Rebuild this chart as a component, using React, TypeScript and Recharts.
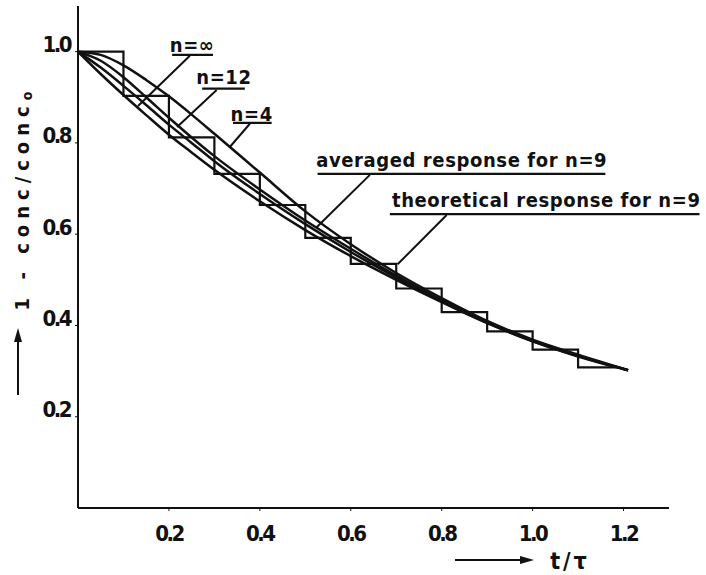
import React from 'react';
import { LineChart, Line, XAxis, YAxis, ReferenceLine, ReferenceDot } from 'recharts';

// t/tau sample points for the smooth curves
const curveT = [0, 0.05, 0.1, 0.15, 0.2, 0.25, 0.3, 0.4, 0.5, 0.6, 0.7, 0.8, 0.9, 1.0, 1.1, 1.21];
const n4 = [1.0, 0.993, 0.97, 0.938, 0.902, 0.862, 0.82, 0.735, 0.65, 0.578, 0.515, 0.46, 0.41, 0.369, 0.336, 0.302];
const n12 = [1.0, 0.98, 0.944, 0.9, 0.855, 0.812, 0.771, 0.698, 0.63, 0.568, 0.509, 0.455, 0.407, 0.367, 0.334, 0.302];
const nInf = [1.0, 0.965, 0.925, 0.883, 0.84, 0.8, 0.76, 0.688, 0.622, 0.561, 0.505, 0.453, 0.406, 0.366, 0.333, 0.302];
const averaged = [1.0, 0.951, 0.905, 0.861, 0.818, 0.779, 0.741, 0.672, 0.609, 0.552, 0.5, 0.451, 0.405, 0.365, 0.332, 0.302];

// theoretical (staircase) response for n=9
const stepT = [0, 0.1, 0.2, 0.3, 0.4, 0.5, 0.6, 0.7, 0.8, 0.9, 1.0, 1.1, 1.185];
const stepV = [1.0, 0.903, 0.812, 0.732, 0.664, 0.592, 0.535, 0.481, 0.429, 0.387, 0.347, 0.308, 0.308];

const xTicks = [0.2, 0.4, 0.6, 0.8, 1.0, 1.2];
const yTicks = [0.2, 0.4, 0.6, 0.8, 1.0];

const font = '"DejaVu Sans Condensed", "DejaVu Sans", sans-serif';

const toRows = (xs: number[], ys: number[]) => xs.map((x, i) => ({ x, y: ys[i] }));

// labels with underline + leader line, in data units
const notes = [
  { text: 'n=∞', at: [0.251, 1.015], under: [0.207, 0.297, 0.993], leader: [0.246, 0.991, 0.132, 0.881] },
  { text: 'n=12', at: [0.321, 0.945], under: [0.273, 0.367, 0.919], leader: [0.305, 0.916, 0.218, 0.835] },
  { text: 'n=4', at: [0.382, 0.864], under: [0.341, 0.426, 0.844], leader: [0.378, 0.842, 0.334, 0.791] },
  { text: 'averaged response for  n=9', at: [0.844, 0.763], under: [0.527, 1.16, 0.732], leader: [0.642, 0.73, 0.525, 0.615] },
  { text: 'theoretical  response  for  n=9', at: [1.03, 0.675], under: [0.686, 1.367, 0.644], leader: [0.811, 0.642, 0.703, 0.534] },
];

const YTick = (p: any) => (
  <text x={p.x - 3} y={p.y - 7} textAnchor="end" dominantBaseline="central" fontFamily={font} fontSize={22} fontWeight="bold" letterSpacing={-2.5} fill="#111">
    {p.payload.value.toFixed(1)}
  </text>
);

const XTick = (p: any) => (
  <text x={p.x} y={p.y + 20} textAnchor="middle" dominantBaseline="central" fontFamily={font} fontSize={22} fontWeight="bold" letterSpacing={-2.5} fill="#111">
    {p.payload.value.toFixed(1)}
  </text>
);

const YTitle = (p: any) => {
  const vb = p.viewBox;
  const cx = vb.x + 4;
  const cy = 198;
  return (
    <g>
      <text transform={`rotate(-90, ${cx}, ${cy})`} x={cx} y={cy} textAnchor="middle" dominantBaseline="central" fontFamily={font} fontSize={20} fontWeight="bold" letterSpacing={6} fill="#111">
        1 - conc/conc<tspan fontSize={14} dy={5}>o</tspan>
      </text>
      <line x1={vb.x} y1={395} x2={vb.x} y2={338} stroke="#111" strokeWidth={2} />
      <path d={`M ${vb.x - 4} ${342} L ${vb.x} ${328} L ${vb.x + 4} ${342} Z`} fill="#111" />
    </g>
  );
};

const XTitle = (p: any) => {
  const vb = p.viewBox;
  const y = vb.y + 52;
  return (
    <g>
      <line x1={455} y1={y} x2={524} y2={y} stroke="#111" strokeWidth={2} />
      <path d={`M 520 ${y - 4} L 534 ${y} L 520 ${y + 4} Z`} fill="#111" />
      <text x={570} y={y + 1} textAnchor="middle" dominantBaseline="central" fontFamily={font} fontSize={23} fontWeight="bold" letterSpacing={3} fill="#111">
        t/τ
      </text>
    </g>
  );
};

export default function App() {
  return (
    <div style={{ position: 'absolute', left: 0, top: 0, background: '#fff' }}>
      <LineChart width={706} height={575} margin={{ top: 6, right: 37, left: 18, bottom: 27 }}>
        <XAxis
          dataKey="x"
          type="number"
          domain={[0, 1.3]}
          ticks={xTicks}
          allowDataOverflow
          axisLine={{ stroke: '#111', strokeWidth: 2 }}
          tickLine={{ stroke: '#111' }}
          tickSize={3}
          height={40}
          tick={<XTick />}
          label={<XTitle />}
        />
        <YAxis
          type="number"
          domain={[0, 1.1]}
          ticks={yTicks}
          allowDataOverflow
          axisLine={{ stroke: '#111', strokeWidth: 2 }}
          tickLine={{ stroke: '#111' }}
          tickSize={3}
          width={60}
          tick={<YTick />}
          label={<YTitle />}
        />
        <Line data={toRows(stepT, stepV)} dataKey="y" type="stepAfter" stroke="#111" strokeWidth={2.2} dot={false} isAnimationActive={false} />
        <Line data={toRows(curveT, averaged)} dataKey="y" type="monotone" stroke="#111" strokeWidth={2.5} dot={false} isAnimationActive={false} />
        <Line data={toRows(curveT, nInf)} dataKey="y" type="monotone" stroke="#111" strokeWidth={2.5} dot={false} isAnimationActive={false} />
        <Line data={toRows(curveT, n12)} dataKey="y" type="monotone" stroke="#111" strokeWidth={2.5} dot={false} isAnimationActive={false} />
        <Line data={toRows(curveT, n4)} dataKey="y" type="monotone" stroke="#111" strokeWidth={2.5} dot={false} isAnimationActive={false} />
        {notes.map((n) => (
          <ReferenceLine
            key={n.text + 'u'}
            segment={[{ x: n.under[0], y: n.under[2] }, { x: n.under[1], y: n.under[2] }]}
            stroke="#111"
            strokeWidth={2.2}
            ifOverflow="visible"
          />
        ))}
        {notes.map((n) => (
          <ReferenceLine
            key={n.text + 'l'}
            segment={[{ x: n.leader[0], y: n.leader[1] }, { x: n.leader[2], y: n.leader[3] }]}
            stroke="#111"
            strokeWidth={2}
            ifOverflow="visible"
          />
        ))}
        {notes.map((n) => (
          <ReferenceDot
            key={n.text}
            x={n.at[0]}
            y={n.at[1]}
            r={0}
            ifOverflow="visible"
            shape={(p: any) => (
              <text x={p.cx} y={p.cy} textAnchor="middle" dominantBaseline="central" fontFamily={font} fontSize={20} fontWeight="bold" letterSpacing={0.6} fill="#111">
                {n.text}
              </text>
            )}
          />
        ))}
      </LineChart>
    </div>
  );
}
